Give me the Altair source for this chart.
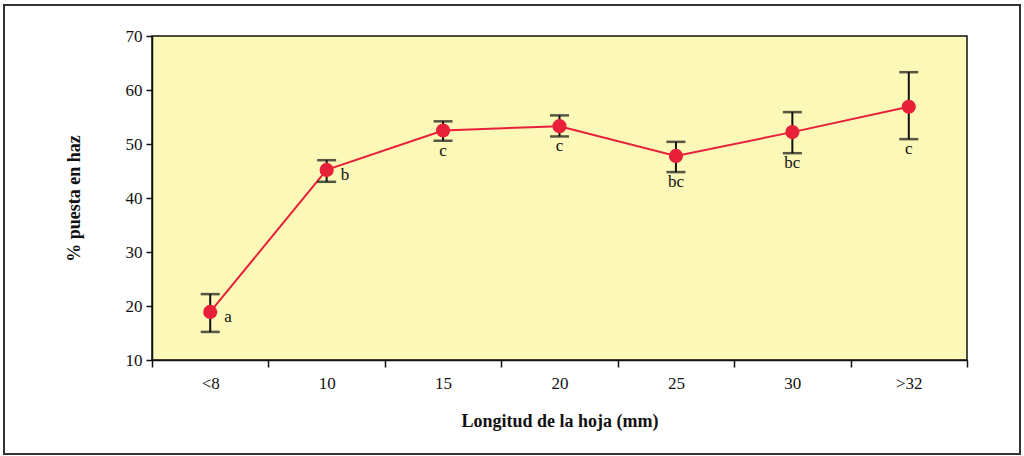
import altair as alt
import pandas as pd

categories = ["<8", "10", "15", "20", "25", "30", ">32"]
means = [18.9, 45.2, 52.5, 53.3, 47.8, 52.2, 56.9]
lows = [15.2, 43.0, 50.6, 51.4, 44.8, 48.3, 50.9]
highs = [22.2, 47.0, 54.2, 55.3, 50.4, 55.9, 63.3]
letters = ["a", "b", "c", "c", "bc", "bc", "c"]
side_labels = ["<8", "10"]

df = pd.DataFrame({"cat": categories, "mean": means, "low": lows, "high": highs, "letter": letters})

FONT = "'Liberation Serif', 'Times New Roman', 'DejaVu Serif', serif"
W, H = 815, 324

x = alt.X("cat:N", sort=categories, scale=alt.Scale(paddingInner=0, paddingOuter=0),
          axis=alt.Axis(title="Longitud de la hoja (mm)", labelAngle=0, tickBand="extent",
                        tickSize=7, tickColor="#111", tickWidth=1.5, domainColor="#111", domainWidth=1.5,
                        labelFont=FONT, labelFontSize=17, labelColor="#111", labelPadding=8,
                        titleFont=FONT, titleFontSize=18, titleFontWeight="bold", titleColor="#111",
                        titlePadding=21))
y = alt.Y("mean:Q", scale=alt.Scale(domain=[10, 70], nice=False, zero=False),
          axis=alt.Axis(title="% puesta en haz", values=[10, 20, 30, 40, 50, 60, 70], tickSize=6,
                        tickColor="#111", tickWidth=1.5, domainColor="#111", domainWidth=1.5,
                        labelFont=FONT, labelFontSize=17, labelColor="#111", labelPadding=4,
                        titleFont=FONT, titleFontSize=18, titleFontWeight="bold", titleColor="#111",
                        titlePadding=42, grid=False))

base = alt.Chart(df)

frame = base.mark_rect(fill=None, stroke="#333", strokeWidth=2, clip=False).encode(
    x=alt.value(-148), x2=alt.value(868), y=alt.value(-31), y2=alt.value(418))

line = base.mark_line(color="#E8203A", strokeWidth=2).encode(x=x, y=y)
rule = base.mark_rule(color="#111", strokeWidth=2).encode(x=x, y=alt.Y("low:Q"), y2="high:Q")
cap_lo = base.mark_tick(color="#111", thickness=2.5, size=19, orient="horizontal").encode(x=x, y=alt.Y("low:Q"))
cap_hi = base.mark_tick(color="#111", thickness=2.5, size=19, orient="horizontal").encode(x=x, y=alt.Y("high:Q"))
pts = base.mark_circle(color="#E8203A", opacity=1, size=200).encode(x=x, y=y)

txt_side = base.transform_filter(alt.FieldOneOfPredicate(field="cat", oneOf=side_labels)).mark_text(
    font=FONT, fontSize=17, color="#111", align="left", baseline="middle", dx=14, dy=5
).encode(x=x, y=y, text="letter:N")
txt_below = base.transform_filter(~alt.FieldOneOfPredicate(field="cat", oneOf=side_labels)).mark_text(
    font=FONT, fontSize=17, color="#111", align="center", baseline="top", dx=0, dy=2
).encode(x=x, y=alt.Y("low:Q"), text="letter:N")

chart = alt.layer(frame, line, rule, cap_lo, cap_hi, pts, txt_side, txt_below).properties(
    width=W, height=H,
    autosize=alt.AutoSizeParams(type="none"),
    padding={"left": 152, "top": 36, "right": 57, "bottom": 96},
    background="white",
).configure_view(fill="#FBF8B8", stroke="#111", strokeWidth=1.5)

chart.save("out.html", embed_options={"renderer": "svg", "actions": False})
